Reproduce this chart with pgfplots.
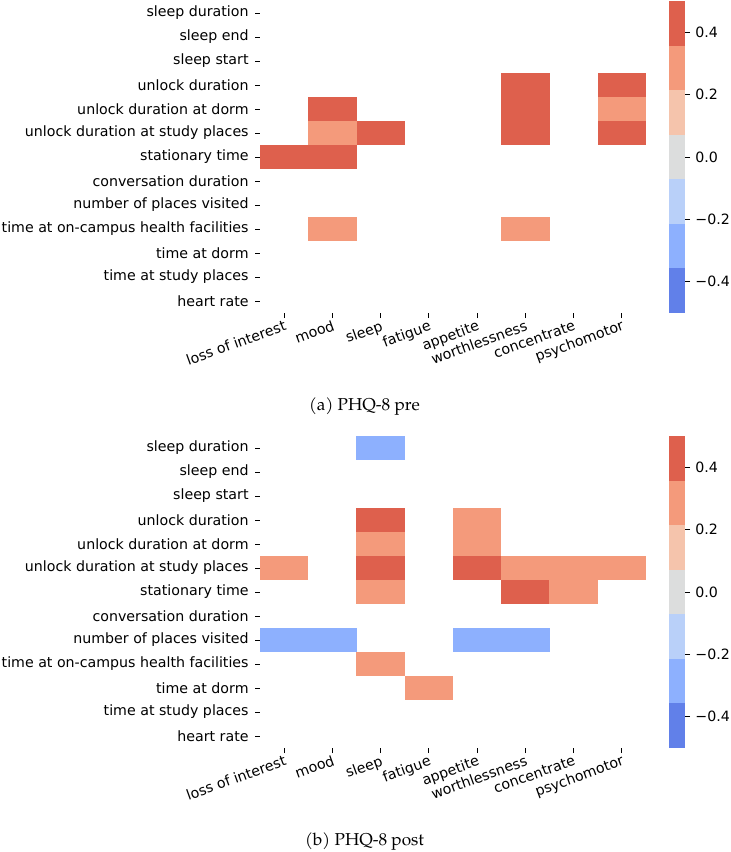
\documentclass[border=0pt]{standalone}
\usepackage{fontspec}
\setmainfont{DejaVu Sans}
\newfontfamily\capfont{texgyrepagella-regular.otf}
\usepackage{pgfplots}
\pgfplotsset{compat=1.18}

\definecolor{cb1}{HTML}{6180E9}
\definecolor{cb2}{HTML}{8DB0FE}
\definecolor{cb3}{HTML}{B9D0F9}
\definecolor{cb4}{HTML}{DCDDDD}
\definecolor{cb5}{HTML}{F5C4AC}
\definecolor{cb6}{HTML}{F49A7B}
\definecolor{cb7}{HTML}{DE604D}

\pgfdeclareplotmark{cell}{\pgfpathrectangle{\pgfpoint{-12.15pt}{-6.1pt}}{\pgfpoint{24.3pt}{12.2pt}}\pgfusepathqfill}

\newcommand{\tickfont}{\fontsize{7.1}{8.5}\selectfont}
\newcommand{\mn}{\symbol{"2212}}

\pgfplotsset{
  heat/.style={
    scale only axis, width=193pt, height=156pt,
    xmin=-0.5, xmax=7.5, ymin=-0.5, ymax=12.5,
    axis line style={draw=none},
    xtick={0,...,7}, ytick={0,...,12},
    xticklabels={loss of interest, mood, sleep, fatigue, appetite, worthlessness, concentrate, psychomotor},
    yticklabels={heart rate, time at study places, time at dorm, time at on-campus health facilities, number of places visited, conversation duration, stationary time, unlock duration at study places, unlock duration at dorm, unlock duration, sleep start, sleep end, sleep duration},
    tick align=outside, major tick length=2.5pt,
    tick style={black, line width=0.45pt},
    xtick pos=bottom, ytick pos=left,
    xticklabel style={rotate=20, anchor=north east, inner sep=0.5pt, font=\tickfont},
    yticklabel style={anchor=east, inner sep=0.5pt, xshift=-2.5pt, font=\tickfont},
    clip=false,
  },
  cbar/.style={
    scale only axis, width=8pt, height=156pt,
    xmin=0, xmax=1, ymin=-0.5, ymax=0.5,
    axis line style={draw=none},
    xtick=\empty,
    ytick={-0.4,-0.2,0,0.2,0.4},
    yticklabels={\mn0.4,\mn0.2,0.0,0.2,0.4},
    ytick pos=right, yticklabel pos=right,
    tick align=outside, major tick length=2.5pt,
    tick style={black, line width=0.45pt},
    yticklabel style={anchor=west, inner sep=0.5pt, xshift=2pt, font=\tickfont},
  },
}

\newcommand{\colorbarbins}{%
  \addplot[fill=cb1, draw=none] coordinates {(0,-0.5) (1,-0.5) (1,-0.3571) (0,-0.3571)} -- cycle;
  \addplot[fill=cb2, draw=none] coordinates {(0,-0.3571) (1,-0.3571) (1,-0.2143) (0,-0.2143)} -- cycle;
  \addplot[fill=cb3, draw=none] coordinates {(0,-0.2143) (1,-0.2143) (1,-0.0714) (0,-0.0714)} -- cycle;
  \addplot[fill=cb4, draw=none] coordinates {(0,-0.0714) (1,-0.0714) (1,0.0714) (0,0.0714)} -- cycle;
  \addplot[fill=cb5, draw=none] coordinates {(0,0.0714) (1,0.0714) (1,0.2143) (0,0.2143)} -- cycle;
  \addplot[fill=cb6, draw=none] coordinates {(0,0.2143) (1,0.2143) (1,0.3571) (0,0.3571)} -- cycle;
  \addplot[fill=cb7, draw=none] coordinates {(0,0.3571) (1,0.3571) (1,0.5) (0,0.5)} -- cycle;
}

% x = item (0..7), y = 12 - feature row, v = correlation
\pgfplotstableread{
x y v
5 9 0.43
7 9 0.43
1 8 0.43
5 8 0.43
2 7 0.43
5 7 0.43
7 7 0.43
0 6 0.43
1 6 0.43
}\preDark
\pgfplotstableread{
x y v
7 8 0.29
1 7 0.29
1 3 0.29
5 3 0.29
}\preMid
\pgfplotstableread{
x y v
2 9 0.43
2 7 0.43
4 7 0.43
5 6 0.43
}\postDark
\pgfplotstableread{
x y v
4 9 0.29
2 8 0.29
4 8 0.29
0 7 0.29
5 7 0.29
6 7 0.29
7 7 0.29
2 6 0.29
6 6 0.29
2 3 0.29
3 2 0.29
}\postMid
\pgfplotstableread{
x y v
2 12 -0.29
0 4 -0.29
1 4 -0.29
4 4 -0.29
5 4 -0.29
}\postBlue

\begin{document}
\begin{tikzpicture}
\path[use as bounding box] (0,0) rectangle (365pt,-426pt);

% (a) pre
\begin{axis}[heat, at={(130pt,-0.5pt)}, anchor=north west]
  \addplot[only marks, mark=cell, color=cb7] table[x=x, y=y] {\preDark};
  \addplot[only marks, mark=cell, color=cb6] table[x=x, y=y] {\preMid};
\end{axis}
\begin{axis}[cbar, at={(334.5pt,-0.5pt)}, anchor=north west]
  \colorbarbins
\end{axis}
\node[anchor=base, font=\capfont\fontsize{8.6}{10}\selectfont] at (182.25pt,-205pt) {(a) PHQ-8 pre};

% (b) post
\begin{axis}[heat, at={(130pt,-218pt)}, anchor=north west]
  \addplot[only marks, mark=cell, color=cb7] table[x=x, y=y] {\postDark};
  \addplot[only marks, mark=cell, color=cb6] table[x=x, y=y] {\postMid};
  \addplot[only marks, mark=cell, color=cb2] table[x=x, y=y] {\postBlue};
\end{axis}
\begin{axis}[cbar, at={(334.5pt,-218pt)}, anchor=north west]
  \colorbarbins
\end{axis}
\node[anchor=base, font=\capfont\fontsize{8.6}{10}\selectfont] at (182.25pt,-422.5pt) {(b) PHQ-8 post};
\end{tikzpicture}
\end{document}
